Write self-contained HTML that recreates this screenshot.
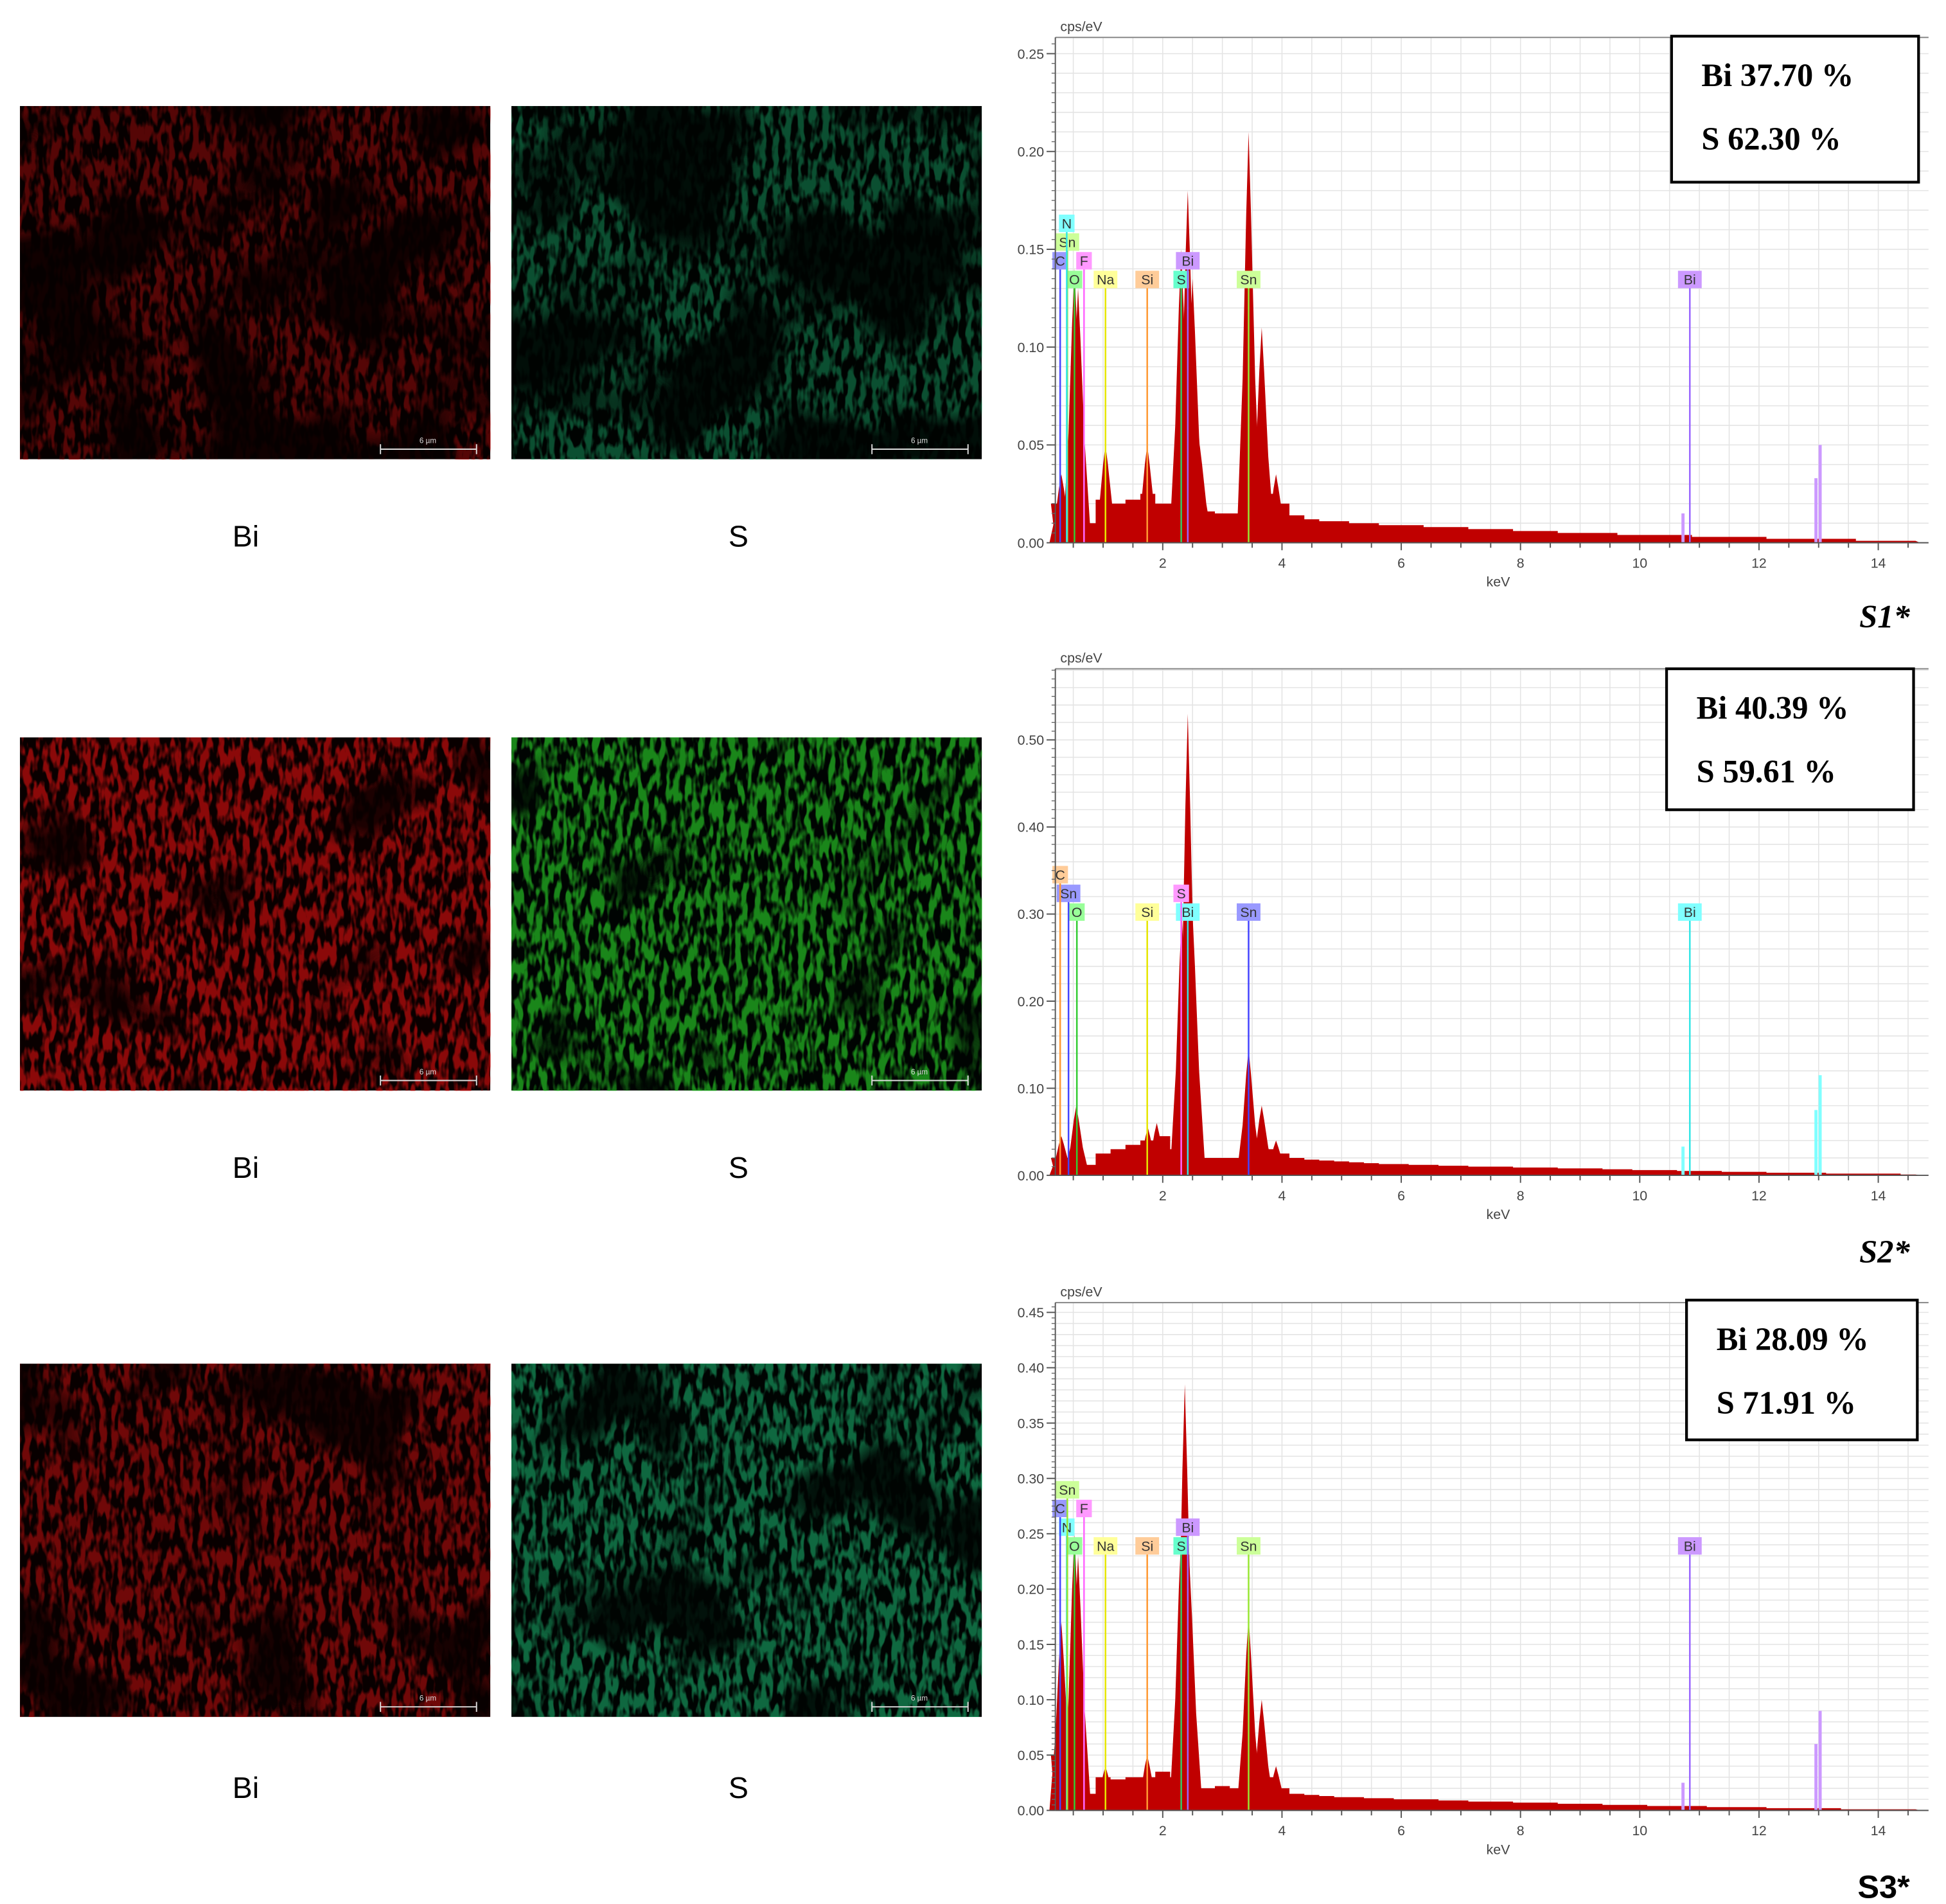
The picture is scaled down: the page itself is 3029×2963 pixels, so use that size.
<!DOCTYPE html>
<html><head><meta charset="utf-8"><style>
html,body{margin:0;padding:0;background:#fff;}
svg{display:block;}
</style></head><body>
<svg id="fig" width="3029" height="2963" viewBox="0 0 1560 1526" xmlns="http://www.w3.org/2000/svg" font-family="'Liberation Sans', 'DejaVu Sans', sans-serif">
<defs id="defs"></defs>
<rect width="1560" height="1526" fill="#fff"/>
<g id="maps"></g>
<g id="charts"></g>
</svg>
<script>
// ---------- chart data (top-level arrays) ----------
const bgStart = 0.25, bgStep = 0.25;
const c1Bg = [0.02,0.02,0.01,0.022,0.02,0.022,0.025,0.02,0.02,0.03,0.016,0.015,0.015,0.02,0.025,0.02,0.014,0.012,0.011,0.011,0.01,0.01,0.009,0.009,0.009,0.008,0.008,0.008,0.007,0.007,0.007,0.006,0.006,0.006,0.005,0.005,0.005,0.005,0.004,0.004,0.004,0.004,0.004,0.003,0.003,0.003,0.003,0.003,0.002,0.002,0.002,0.002,0.002,0.002,0.001,0.001,0.001,0.001];
const c1PeakE = [0.3,0.52,0.58,1.04,1.74,2.31,2.42,2.5,2.62,3.44,3.66,3.9];
const c1PeakH = [0.035,0.14,0.13,0.05,0.05,0.15,0.18,0.135,0.05,0.21,0.11,0.035];
const c1LabName = ['O','Na','Si','S','Sn','Bi','C','F','Bi','Sn','N'];
const c1LabE = [0.52,1.04,1.74,2.31,3.44,10.84,0.28,0.68,2.42,0.4,0.39];
const c1LabRow = [0,0,0,0,0,0,1,1,1,2,3];
const c1LabCol = ['#99ff99','#ffff99','#ffcc99','#66ffcc','#ccff99','#cc99ff','#9999ff','#ff99ff','#cc99ff','#ccff99','#80ffff'];
const c1TickE = [10.72,12.95,13.02];
const c1TickH = [0.015,0.033,0.05];
const c1YTicks = ['0.00','0.05','0.10','0.15','0.20','0.25'];

const c2Bg = [0.02,0.02,0.012,0.025,0.03,0.035,0.04,0.045,0.03,0.03,0.02,0.02,0.02,0.025,0.03,0.025,0.02,0.018,0.017,0.016,0.015,0.014,0.013,0.013,0.012,0.012,0.011,0.011,0.01,0.01,0.01,0.009,0.009,0.009,0.008,0.008,0.008,0.007,0.007,0.006,0.006,0.006,0.005,0.005,0.005,0.004,0.004,0.004,0.003,0.003,0.003,0.003,0.002,0.002,0.002,0.002,0.002,0.001];
const c2PeakE = [0.3,0.55,1.75,1.9,2.32,2.42,2.5,3.44,3.66,3.9];
const c2PeakH = [0.045,0.08,0.055,0.06,0.3,0.53,0.3,0.145,0.08,0.04];
const c2LabName = ['O','Si','Bi','Sn','Bi','Sn','S','C'];
const c2LabE = [0.56,1.74,2.42,3.44,10.84,0.42,2.31,0.28];
const c2LabRow = [0,0,0,0,0,1,1,2];
const c2LabCol = ['#99ff99','#ffff99','#80ffff','#9999ff','#80ffff','#9999ff','#ff99ff','#ffcc99'];
const c2TickE = [10.72,12.95,13.02];
const c2TickH = [0.033,0.075,0.115];
const c2YTicks = ['0.00','0.10','0.20','0.30','0.40','0.50'];

const c3Bg = [0.05,0.03,0.015,0.03,0.028,0.03,0.03,0.035,0.03,0.03,0.02,0.022,0.02,0.025,0.03,0.02,0.015,0.014,0.013,0.012,0.012,0.011,0.011,0.01,0.01,0.01,0.009,0.009,0.008,0.008,0.008,0.007,0.007,0.007,0.006,0.006,0.006,0.005,0.005,0.005,0.004,0.004,0.004,0.004,0.003,0.003,0.003,0.003,0.002,0.002,0.002,0.002,0.002,0.001,0.001,0.001,0.001,0.001];
const c3PeakE = [0.3,0.52,0.58,1.04,1.74,2.31,2.37,2.45,3.44,3.66,3.9];
const c3PeakH = [0.17,0.25,0.23,0.04,0.05,0.25,0.385,0.22,0.175,0.1,0.04];
const c3LabName = ['O','Na','Si','S','Sn','Bi','N','Bi','C','F','Sn'];
const c3LabE = [0.52,1.04,1.74,2.31,3.44,10.84,0.39,2.42,0.28,0.68,0.4];
const c3LabRow = [0,0,0,0,0,0,1,1,2,2,3];
const c3LabCol = ['#99ff99','#ffff99','#ffcc99','#66ffcc','#ccff99','#cc99ff','#80ffff','#cc99ff','#9999ff','#ff99ff','#ccff99'];
const c3TickE = [10.72,12.95,13.02];
const c3TickH = [0.025,0.06,0.09];
const c3YTicks = ['0.00','0.05','0.10','0.15','0.20','0.25','0.30','0.35','0.40','0.45'];

const xTicks = ['2','4','6','8','10','12','14'];
const NS = 'http://www.w3.org/2000/svg';
function mk(tag, attrs, parent){const e=document.createElementNS(NS,tag);for(const k in attrs)e.setAttribute(k,attrs[k]);parent.appendChild(e);return e;}
const lineCol = {'#99ff99':'#33cc33','#ffff99':'#e6e600','#ffcc99':'#ff9933','#66ffcc':'#33cc66','#ccff99':'#99e633','#cc99ff':'#9966ff','#9999ff':'#4444ff','#ff99ff':'#ff66ff','#80ffff':'#33e6e6'};

// ---------- maps ----------
const defs = document.getElementById('defs');
const mapsG = document.getElementById('maps');
const mapRows = [85,591,1093];
const mapCols = [16,410];
const mapColors = [['#e01010','#1fd080'],['#e01010','#2ad82a'],['#e01010','#1fd080']];
const mapBias = [-2.0,-1.2,-1.5];
const mapDark = [0.62,0.38,0.5];
const rowLabelY = [430,936,1433];
mapRows.forEach((y,ri)=>{
  mapCols.forEach((x,ci)=>{
    const id='f'+ri+ci;
    const f=mk('filter',{id:id,x:'0',y:'0',width:'1',height:'1',filterUnits:'objectBoundingBox','color-interpolation-filters':'sRGB'},defs);
    mk('feTurbulence',{type:'fractalNoise',baseFrequency:'0.2 0.07',numOctaves:'2',seed:String(3+ri*5+ci),result:'fine'},f);
    mk('feTurbulence',{type:'fractalNoise',baseFrequency:'0.012',numOctaves:'2',seed:String(11+ri*7),result:'coarse'},f);
    mk('feColorMatrix',{in:'fine',type:'matrix',values:'0 0 0 0 0 0 0 0 0 0 0 0 0 0 0 4.5 0 0 0 -1.9',result:'fa'},f);
    mk('feColorMatrix',{in:'coarse',type:'matrix',values:'0 0 0 0 0 0 0 0 0 0 0 0 0 0 0 5 0 0 0 '+mapBias[ri],result:'ca'},f);
    mk('feComposite',{in:'fa',in2:'ca',operator:'arithmetic',k1:'1.1',k2:'0.15',k3:'0',k4:'0',result:'m'},f);
    mk('feFlood',{'flood-color':mapColors[ri][ci],result:'col'},f);
    mk('feComposite',{in:'col',in2:'m',operator:'in'},f);
    const g=mk('g',{},mapsG);
    
    
    mk('rect',{x:x,y:y,width:377,height:283,fill:ci===0?'#100000':'#000804'},g);
    mk('rect',{x:x,y:y,width:377,height:283,fill:'#000',filter:'url(#'+id+')'},g);
    mk('rect',{x:x,y:y,width:377,height:283,fill:'#000','fill-opacity':mapDark[ri]},g);
    const sb=mk('g',{stroke:'#ddd','stroke-width':'1'},g);
    
    
    mk('line',{x1:x+289,y1:y+275,x2:x+366,y2:y+275},sb);
    mk('line',{x1:x+289,y1:y+271,x2:x+289,y2:y+279},sb);
    mk('line',{x1:x+366,y1:y+271,x2:x+366,y2:y+279},sb);
    const st=mk('text',{x:x+327,y:y+270,'font-size':'6',fill:'#ddd','text-anchor':'middle'},g);
    st.textContent='6 µm';
    const lt=mk('text',{x:ci===0?197:592,y:rowLabelY[ri]+8,'font-size':'24','text-anchor':'middle',fill:'#000','font-family':"'Liberation Sans', sans-serif"},mapsG);
    
    
    lt.textContent= ci===0?'Bi':'S';
  });
});

// ---------- charts ----------
const chartsG = document.getElementById('charts');
const charts = [
 {name:'spectrum-s1',top:30,y0:435,ppu:1568,minor:0.01,bg:c1Bg,pe:c1PeakE,ph:c1PeakH,ln:c1LabName,le:c1LabE,lr:c1LabRow,lc:c1LabCol,te:c1TickE,th:c1TickH,yt:c1YTicks,row0:224,
  box:[1340,29,198,117],bt:['Bi 37.70 %','S 62.30 %'],tag:'S1*',tagY:503,tagItalic:true,tickCol:'#cc99ff'},
 {name:'spectrum-s2',top:536,y0:942,ppu:698,minor:0.02,bg:c2Bg,pe:c2PeakE,ph:c2PeakH,ln:c2LabName,le:c2LabE,lr:c2LabRow,lc:c2LabCol,te:c2TickE,th:c2TickH,yt:c2YTicks,row0:731,
  box:[1336,536,198,113],bt:['Bi 40.39 %','S 59.61 %'],tag:'S2*',tagY:1012,tagItalic:true,tickCol:'#80ffff'},
 {name:'spectrum-s3',top:1044,y0:1451,ppu:887,minor:0.01,bg:c3Bg,pe:c3PeakE,ph:c3PeakH,ln:c3LabName,le:c3LabE,lr:c3LabRow,lc:c3LabCol,te:c3TickE,th:c3TickH,yt:c3YTicks,row0:1239,
  box:[1352,1042,185,112],bt:['Bi 28.09 %','S 71.91 %'],tag:'S3*',tagY:1521,tagItalic:false,tickCol:'#cc99ff'}
];
const xL=846, xR=1546, kevPx=47.8, kev0=836.5;
function X(e){return kev0+e*kevPx;}
charts.forEach(c=>{
  const Y=v=>c.y0-v*c.ppu;
  const g=mk('g',{},chartsG);
  
  
  const grid=mk('g',{stroke:'#e4e4e4','stroke-width':'0.8'},g);
  
  
  for(let e=0.5;e<=14.6;e+=0.5){mk('line',{x1:X(e),y1:c.top,x2:X(e),y2:c.y0},grid);}
  for(let v=c.minor;Y(v)>c.top;v+=c.minor){mk('line',{x1:xL,y1:Y(v),x2:xR,y2:Y(v)},grid);}
  let d='M'+X(0.2)+','+c.y0;
  c.bg.forEach((v,i)=>{const e=bgStart+i*bgStep;d+=' L'+X(e-0.125)+','+Y(v)+' L'+X(e+0.125)+','+Y(v);});
  d+=' L'+X(14.7)+','+c.y0+' Z';
  const sp=mk('path',{d:d,fill:'#c00000'},g);
  
  
  c.pe.forEach((e,i)=>{
    const h=c.ph[i];
    const pts=[[e-0.2,0],[e-0.1,h*0.4],[e-0.04,h*0.8],[e,h],[e+0.04,h*0.8],[e+0.11,h*0.4],[e+0.22,0]]
      .map(p=>X(p[0])+','+(p[1]===0?c.y0:Y(p[1]))).join(' ');
    const p=mk('polygon',{points:pts,fill:'#c00000'},g);
    
    
  });
  c.te.forEach((e,i)=>{
    const t=mk('rect',{x:X(e)-1,y:Y(c.th[i]),width:2.5,height:c.y0-Y(c.th[i]),fill:c.tickCol},g);
    
    
  });
  c.ln.forEach((n,i)=>{
    const cy=c.row0-c.lr[i]*15;
    const w=n.length*6.5+6;
    const x=X(c.le[i]);
    const lc=lineCol[c.lc[i]]||c.lc[i];
    const ln=mk('line',{x1:x,y1:cy+6,x2:x,y2:c.y0,stroke:lc,'stroke-width':'1.3'},g);
    
    
    const r=mk('rect',{x:x-w/2,y:cy-7,width:w,height:14,fill:c.lc[i]},g);
    
    
    const t=mk('text',{x:x,y:cy+4,'font-size':'11','text-anchor':'middle',fill:'#333'},g);
    t.textContent=n;
  });
  mk('line',{x1:xL,y1:c.top,x2:xR,y2:c.top,stroke:'#888','stroke-width':'1'},g);
  const ax=mk('line',{x1:xL,y1:c.top,x2:xL,y2:c.y0,stroke:'#555','stroke-width':'1'},g);
  
  
  const bx=mk('line',{x1:xL,y1:c.y0,x2:xR,y2:c.y0,stroke:'#555','stroke-width':'1'},g);
  
  
  for(let v=0;Y(v)>c.top-1;v+=c.minor/2){mk('line',{x1:xL-3,y1:Y(v),x2:xL,y2:Y(v),stroke:'#666','stroke-width':'0.7'},g);}
  c.yt.forEach((s)=>{
    const v=parseFloat(s);
    mk('line',{x1:xL-7,y1:Y(v),x2:xL,y2:Y(v),stroke:'#555','stroke-width':'1'},g);
    const t=mk('text',{x:xL-9,y:Y(v)+4,'font-size':'11','text-anchor':'end',fill:'#444'},g);
    
    
    t.textContent=s;
  });
  for(let e=0.5;e<=14.6;e+=0.5){mk('line',{x1:X(e),y1:c.y0,x2:X(e),y2:c.y0+(e%2===0?6:4),stroke:'#555','stroke-width':'1'},g);}
  xTicks.forEach(s=>{
    const t=mk('text',{x:X(parseFloat(s)),y:c.y0+20,'font-size':'11','text-anchor':'middle',fill:'#444'},g);
    
    
    t.textContent=s;
  });
  const xl=mk('text',{x:1201,y:c.y0+35,'font-size':'11','text-anchor':'middle',fill:'#444'},g);
  
  
  xl.textContent='keV';
  const yl=mk('text',{x:850,y:c.top-5,'font-size':'11',fill:'#444'},g);
  
  
  yl.textContent='cps/eV';
  const b=c.box;
  const bg=mk('g',{},g);
  
  
  mk('rect',{x:b[0],y:b[1],width:b[2],height:b[3],fill:'#fff',stroke:'#000','stroke-width':'2.2'},bg);
  c.bt.forEach((s,i)=>{
    const t=mk('text',{x:b[0]+24,y:b[1]+40+i*51,'font-size':'26','font-weight':'bold','font-family':"'Liberation Serif', serif",fill:'#000'},bg);
    t.textContent=s;
  });
  const tg=mk('text',{x:1531,y:c.tagY,'font-size':'26','font-weight':'bold','font-style':c.tagItalic?'italic':'normal','text-anchor':'end','font-family':c.tagItalic?"'Liberation Serif', serif":"'Liberation Sans', sans-serif",fill:'#000'},g);
  
  
  tg.textContent=c.tag;
});
</script>
</body></html>
